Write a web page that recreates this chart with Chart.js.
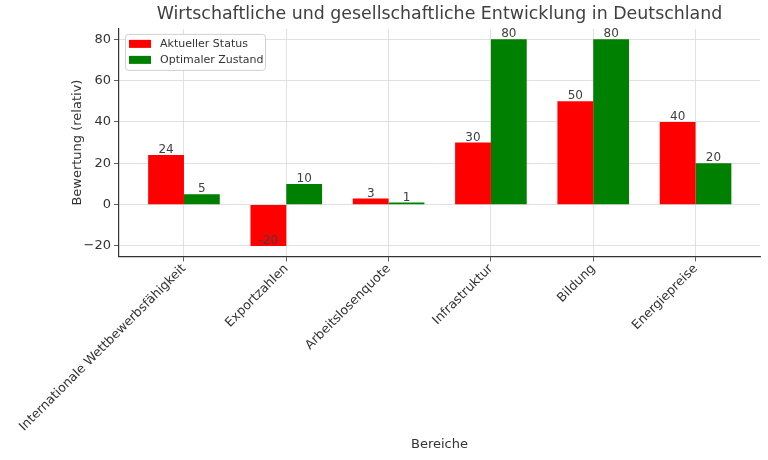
<!DOCTYPE html>
<html lang="de">
<head>
    <meta charset="UTF-8">
    <title>Wirtschaftliche und gesellschaftliche Entwicklung</title>
    <script src="https://cdn.jsdelivr.net/npm/chart.js"></script>
    <style>
        body { margin: 0; padding: 0; background: #ffffff; }
        #wrap { width: 768px; height: 460px; }
    </style>
</head>
<body>
    <div id="wrap"><canvas id="chart" width="768" height="460"></canvas></div>

    <script>
        // data
        const categories = ['Internationale Wettbewerbsfähigkeit', 'Exportzahlen', 'Arbeitslosenquote',
                            'Infrastruktur', 'Bildung', 'Energiepreise'];
        const aktuellerStatus = [24, -20, 3, 30, 50, 40];
        const optimalerZustand = [5, 10, 1, 80, 80, 20];
        const yTicks = [-20, 0, 20, 40, 60, 80];

        const textColor = '#333333';
        const font = 'DejaVu Sans';

        // value labels above each bar
        const valueLabels = {
            id: 'valueLabels',
            afterDatasetsDraw(chart) {
                const ctx = chart.ctx;
                const yScale = chart.scales.y;
                ctx.save();
                ctx.font = '12px "' + font + '"';
                ctx.fillStyle = '#404040';
                ctx.textAlign = 'center';
                ctx.textBaseline = 'bottom';
                chart.data.datasets.forEach((ds, di) => {
                    chart.getDatasetMeta(di).data.forEach((bar, i) => {
                        const v = ds.data[i].y;
                        ctx.fillText(String(v), bar.x, yScale.getPixelForValue(v) + 1);
                    });
                });
                ctx.restore();
            }
        };

        // legend inside the plot, upper left
        const innerLegend = {
            id: 'innerLegend',
            afterDraw(chart) {
                const ctx = chart.ctx;
                const a = chart.chartArea;
                const x = a.left + 6, y = a.top + 5;
                ctx.save();
                ctx.fillStyle = 'rgba(255,255,255,0.85)';
                ctx.strokeStyle = '#d0d0d0';
                ctx.lineWidth = 1;
                ctx.beginPath();
                ctx.roundRect(x + 0.5, y + 0.5, 140, 36, 3);
                ctx.fill();
                ctx.stroke();
                ctx.font = '11px "' + font + '"';
                ctx.textBaseline = 'middle';
                chart.data.datasets.forEach((ds, i) => {
                    const cy = y + 10 + i * 16;
                    ctx.fillStyle = ds.backgroundColor;
                    ctx.fillRect(x + 4, cy - 4, 22, 8);
                    ctx.fillStyle = textColor;
                    ctx.fillText(ds.label, x + 35, cy);
                });
                ctx.restore();
            }
        };

        const toPoints = arr => arr.map((v, i) => ({ x: i, y: v }));

        new Chart(document.getElementById('chart').getContext('2d'), {
            type: 'bar',
            data: {
                datasets: [
                    { label: 'Aktueller Status', data: toPoints(aktuellerStatus), backgroundColor: '#ff0000' },
                    { label: 'Optimaler Zustand', data: toPoints(optimalerZustand), backgroundColor: '#008000' }
                ]
            },
            options: {
                responsive: false,
                animation: false,
                categoryPercentage: 0.7,
                barPercentage: 1.0,
                layout: { padding: { left: 68, right: 8, top: 0, bottom: 8 } },
                plugins: {
                    legend: { display: false },
                    tooltip: { enabled: false },
                    title: {
                        display: true,
                        fullSize: false,
                        text: 'Wirtschaftliche und gesellschaftliche Entwicklung in Deutschland',
                        color: '#404040',
                        font: { family: font, size: 17.4, weight: 'normal' },
                        padding: { top: 4, bottom: 4 }
                    }
                },
                scales: {
                    x: {
                        type: 'linear',
                        offset: false,
                        min: -0.635,
                        max: 5.63,
                        afterBuildTicks: s => { s.ticks = categories.map((c, i) => ({ value: i })); },
                        ticks: {
                            autoSkip: false,
                            minRotation: 45,
                            maxRotation: 45,
                            color: textColor,
                            font: { family: font, size: 12.6 },
                            padding: 0,
                            callback: v => categories[v]
                        },
                        grid: {
                            offset: false,
                            color: '#d9d9d9',
                            borderDash: [3, 3],
                            lineWidth: 0.8,
                            tickColor: '#333333',
                            tickBorderDash: [],
                            tickLength: 5
                        },
                        border: { display: true, color: '#333333', width: 1.2 },
                        title: {
                            display: true,
                            text: 'Bereiche',
                            color: textColor,
                            font: { family: font, size: 13 },
                            padding: { top: 2, bottom: 0 }
                        }
                    },
                    y: {
                        min: -25,
                        max: 85,
                        afterBuildTicks: s => { s.ticks = yTicks.map(v => ({ value: v })); },
                        afterFit: s => { s.width = 51; },
                        ticks: {
                            color: textColor,
                            font: { family: font, size: 13 },
                            padding: 3,
                            callback: v => String(v).replace('-', '\u2212')
                        },
                        grid: {
                            color: '#d9d9d9',
                            borderDash: [3, 3],
                            lineWidth: 0.8,
                            tickColor: '#333333',
                            tickBorderDash: [],
                            tickLength: 5
                        },
                        border: { display: true, color: '#333333', width: 1.2 },
                        title: {
                            display: true,
                            text: 'Bewertung (relativ)',
                            color: textColor,
                            font: { family: font, size: 13 },
                            padding: { top: 2, bottom: 0 }
                        }
                    }
                }
            },
            plugins: [valueLabels, innerLegend]
        });
    </script>
</body>
</html>
